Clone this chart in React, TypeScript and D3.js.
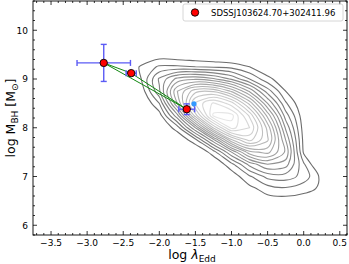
import React, { useEffect, useRef } from 'react';
import * as d3 from 'd3';

const W = 349;
const H = 264;
const margin = { top: 1, right: 2, bottom: 29, left: 33 };

// axes
const xDomain = [-3.75, 0.6];
const yDomain = [5.8, 10.6];
const xTicks = [-3.5, -3.0, -2.5, -2.0, -1.5, -1.0, -0.5, 0.0, 0.5];
const yTicks = [6, 7, 8, 9, 10];

// the three epochs of the object
const objName = 'SDSSJ103624.70+302411.96';
const epochX = [-2.77, -2.39, -1.62];
const epochY = [9.33, 9.12, 8.38];
const epochXErr = [0.37, 0.07, 0.11];
const epochYErr = [0.38, 0.03, 0.11];
const blueX = [-1.52];
const blueY = [8.49];

// density of the comparison sample (rows = log M, cols = log lambda)
const gridX = [-2.75, -2.5, -2.25, -2.0, -1.75, -1.5, -1.25, -1.0, -0.75, -0.5, -0.25, 0.0, 0.25, 0.5];
const gridY = [6.25, 6.5, 6.75, 7.0, 7.25, 7.5, 7.75, 8.0, 8.25, 8.5, 8.75, 9.0, 9.25, 9.5, 9.75];
const density = [
  [0, 0, 0, 0, 0, 0, 0, 0.1, 0.2, 0.3, 0.3, 0.3, 0.3, 0.1],
  [0, 0, 0, 0, 0, 0, 0, 0.1, 0.4, 0.7, 0.7, 0.7, 0.5, 0.4],
  [0, 0, 0, 0, 0, 0, 0, 0.2, 0.8, 1.3, 1.5, 1.2, 0.9, 0.4],
  [0, 0, 0, 0, 0, 0, 0.1, 0.6, 1.5, 2.4, 2.5, 2.0, 0.8, 0],
  [0, 0, 0, 0, 0, 0, 0.4, 1.4, 3.0, 4.0, 3.7, 1.7, 0, 0],
  [0, 0, 0, 0, 0, 0.3, 1.3, 3.4, 5.6, 6.0, 4.5, 0.9, 0, 0],
  [0, 0, 0, 0, 0.4, 1.4, 3.8, 6.9, 8.4, 7.1, 4.0, 0.8, 0, 0],
  [0, 0, 0, 0.3, 1.3, 4.0, 7.7, 10.2, 9.4, 6.8, 3.3, 0.7, 0, 0],
  [0, 0, 0, 0.7, 3.2, 7.3, 10.6, 10.7, 8.7, 5.6, 2.5, 0.6, 0, 0],
  [0, 0, 0.2, 1.6, 5.2, 8.9, 10.1, 9.1, 6.8, 4.0, 1.7, 0.4, 0, 0],
  [0, 0, 0.6, 2.7, 5.8, 7.4, 7.5, 6.3, 4.5, 2.5, 1.0, 0.3, 0, 0],
  [0, 0, 1.0, 2.9, 4.2, 4.5, 4.1, 3.3, 2.2, 1.2, 0.5, 0, 0, 0],
  [0, 0.3, 1.1, 1.7, 1.7, 1.6, 1.5, 1.4, 1.0, 0.4, 0, 0, 0, 0],
  [0, 0, 0.3, 0.6, 0.5, 0.4, 0.3, 0.1, 0, 0, 0, 0, 0, 0],
  [0, 0, 0, 0, 0, 0, 0, 0, 0, 0, 0, 0, 0, 0],
];
const levels = [1, 1.6, 2.2, 2.8, 3.4, 4.0, 4.6, 5.2, 5.8, 6.4, 7.0, 7.6, 8.2, 8.8, 9.4, 10.0, 10.5];

const font = 'DejaVu Sans, sans-serif';

const App = () => {
  const ref = useRef<SVGSVGElement>(null);

  useEffect(() => {
    const svg = d3.select(ref.current);
    svg.selectAll('*').remove();

    const x0 = margin.left, x1 = W - margin.right;
    const y0 = margin.top, y1 = H - margin.bottom;
    const x = d3.scaleLinear().domain(xDomain).range([x0, x1]);
    const y = d3.scaleLinear().domain(yDomain).range([y1, y0]);

    // contours
    const n = gridX.length, m = gridY.length;
    const dxg = gridX[1] - gridX[0], dyg = gridY[1] - gridY[0];
    const values = density.flat();
    const contours = d3.contours().size([n, m]).thresholds(levels)(values);
    const color = d3.scaleLinear<string>()
      .domain([levels[0], levels[8], levels[levels.length - 1]])
      .range(['#6c6c6c', '#a8a8a8', '#e6e6e6']);
    const line = d3.line<number[]>()
      .x(p => x(gridX[0] + (p[0] - 0.5) * dxg))
      .y(p => y(gridY[0] + (p[1] - 0.5) * dyg))
      .curve(d3.curveCatmullRomClosed);
    const cg = svg.append('g');
    contours.forEach(c => {
      c.coordinates.forEach(poly => {
        poly.forEach(ring => {
          cg.append('path')
            .attr('d', line(ring.slice(0, -1)))
            .attr('fill', 'none')
            .attr('stroke', color(c.value))
            .attr('stroke-width', 1.1);
        });
      });
    });

    // green connecting lines
    const pairs = [[0, 1], [0, 2], [1, 2]];
    pairs.forEach(([a, b]) => {
      svg.append('line')
        .attr('x1', x(epochX[a])).attr('y1', y(epochY[a]))
        .attr('x2', x(epochX[b])).attr('y2', y(epochY[b]))
        .attr('stroke', '#118811').attr('stroke-width', 1);
    });

    // blue point
    svg.selectAll('.blue').data(blueX).enter().append('circle')
      .attr('cx', d => x(d)).attr('cy', (d, i) => y(blueY[i]))
      .attr('r', 2.6).attr('fill', '#3399ff');

    // error bars
    const eb = '#5b5bf5';
    const cap = 3;
    epochX.forEach((d, i) => {
      const cx = x(d), cy = y(epochY[i]);
      const xl = x(d - epochXErr[i]), xr = x(d + epochXErr[i]);
      const yt = y(epochY[i] + epochYErr[i]), yb = y(epochY[i] - epochYErr[i]);
      const g = svg.append('g').attr('stroke', eb).attr('stroke-width', 1.4);
      g.append('line').attr('x1', xl).attr('x2', xr).attr('y1', cy).attr('y2', cy);
      g.append('line').attr('x1', cx).attr('x2', cx).attr('y1', yt).attr('y2', yb);
      g.append('line').attr('x1', xl).attr('x2', xl).attr('y1', cy - cap).attr('y2', cy + cap);
      g.append('line').attr('x1', xr).attr('x2', xr).attr('y1', cy - cap).attr('y2', cy + cap);
      g.append('line').attr('x1', cx - cap).attr('x2', cx + cap).attr('y1', yt).attr('y2', yt);
      g.append('line').attr('x1', cx - cap).attr('x2', cx + cap).attr('y1', yb).attr('y2', yb);
    });

    svg.selectAll('.dot').data(epochX).enter().append('circle')
      .attr('cx', d => x(d)).attr('cy', (d, i) => y(epochY[i]))
      .attr('r', 3.7).attr('fill', 'red').attr('stroke', 'black').attr('stroke-width', 0.9);

    // frame and ticks
    svg.append('rect').attr('x', x0).attr('y', y0).attr('width', x1 - x0).attr('height', y1 - y0)
      .attr('fill', 'none').attr('stroke', 'black').attr('stroke-width', 0.9);

    const tg = svg.append('g').attr('stroke', 'black').attr('stroke-width', 0.8);
    const xMinor = d3.range(-3.7, 0.61, 0.1).filter(v => !xTicks.some(t => Math.abs(t - v) < 1e-6));
    const yMinor = d3.range(5.8, 10.61, 0.2).filter(v => !yTicks.some(t => Math.abs(t - v) < 1e-6));
    const xt = (v: number, len: number) => {
      tg.append('line').attr('x1', x(v)).attr('x2', x(v)).attr('y1', y1).attr('y2', y1 - len);
      tg.append('line').attr('x1', x(v)).attr('x2', x(v)).attr('y1', y0).attr('y2', y0 + len);
    };
    const yt = (v: number, len: number) => {
      tg.append('line').attr('y1', y(v)).attr('y2', y(v)).attr('x1', x0).attr('x2', x0 + len);
      tg.append('line').attr('y1', y(v)).attr('y2', y(v)).attr('x1', x1).attr('x2', x1 - len);
    };
    xTicks.forEach(v => xt(v, 4));
    xMinor.forEach(v => xt(v, 2));
    yTicks.forEach(v => yt(v, 4));
    yMinor.forEach(v => yt(v, 2));

    const fmt = d3.format('.1f');
    svg.selectAll('.xl').data(xTicks).enter().append('text')
      .attr('x', d => x(d)).attr('y', y1 + 10.5).attr('text-anchor', 'middle')
      .attr('font-family', font).attr('font-size', 9).text(d => fmt(d));
    svg.selectAll('.yl').data(yTicks).enter().append('text')
      .attr('x', x0 - 5).attr('y', d => y(d) + 3.3).attr('text-anchor', 'end')
      .attr('font-family', font).attr('font-size', 9).text(d => String(d));

    // axis labels
    const xl = svg.append('text').attr('x', (x0 + x1) / 2 + 2).attr('y', 259)
      .attr('text-anchor', 'middle').attr('font-family', font).attr('font-size', 12.5);
    xl.append('tspan').text('log ');
    xl.append('tspan').attr('font-style', 'italic').text('λ');
    xl.append('tspan').attr('font-size', 9).attr('dy', 2.5).text('Edd');

    const yl = svg.append('text')
      .attr('transform', `translate(15,${(y0 + y1) / 2}) rotate(-90)`)
      .attr('text-anchor', 'middle').attr('font-family', font).attr('font-size', 12.5);
    yl.append('tspan').text('log M');
    yl.append('tspan').attr('font-size', 9).attr('dy', 3).text('BH');
    yl.append('tspan').attr('dy', -3).text(' [M');
    yl.append('tspan').attr('font-size', 9).attr('dy', 3).text('⊙');
    yl.append('tspan').attr('dy', -3).text(']');

    // legend
    const lg = svg.append('g');
    lg.append('rect').attr('x', 183).attr('y', 4).attr('width', 160).attr('height', 17).attr('rx', 2)
      .attr('fill', 'white').attr('fill-opacity', 0.8).attr('stroke', '#cccccc').attr('stroke-width', 0.8);
    lg.append('circle').attr('cx', 195).attr('cy', 12.5).attr('r', 3.7)
      .attr('fill', 'red').attr('stroke', 'black').attr('stroke-width', 0.9);
    lg.append('text').attr('x', 211).attr('y', 15.7).attr('font-family', font).attr('font-size', 8.5)
      .text(objName);
  }, []);

  return (
    <svg ref={ref} width={W} height={H}
      style={{ position: 'absolute', left: 0, top: 0, background: 'white' }} />
  );
};

export default App;
